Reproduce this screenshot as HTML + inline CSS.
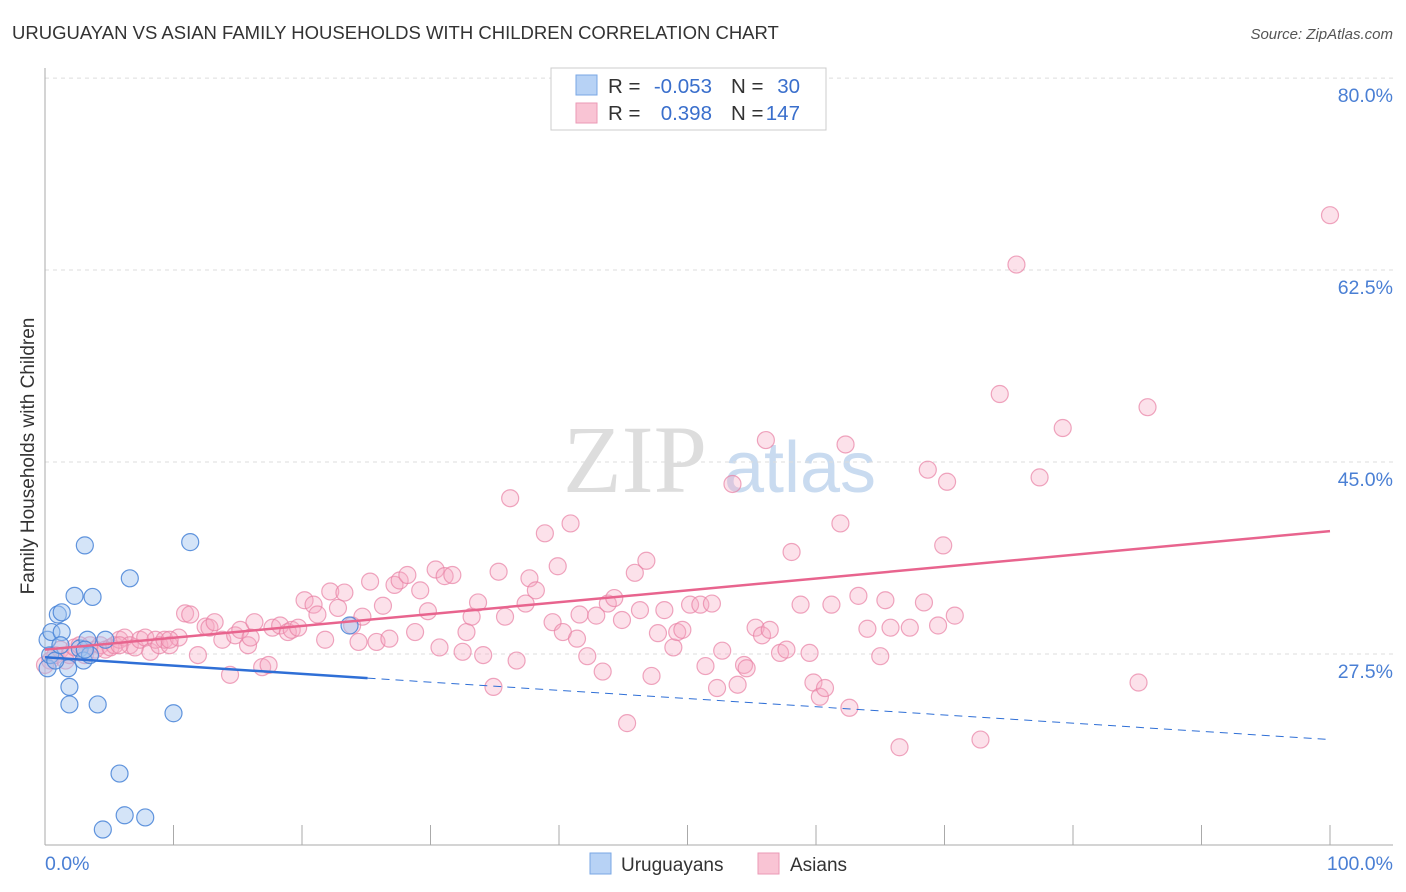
<!DOCTYPE html>
<html><head><meta charset="utf-8"><style>
body{margin:0;background:#fff}
svg{display:block;font-family:"Liberation Sans",sans-serif}
</style></head><body>
<svg id="chart" width="1406" height="892" viewBox="0 0 1406 892">
<text x="12" y="39" font-size="18.5" fill="#333">URUGUAYAN VS ASIAN FAMILY HOUSEHOLDS WITH CHILDREN CORRELATION CHART</text>
<text x="1393" y="39" font-size="15" fill="#555" font-style="italic" text-anchor="end">Source: ZipAtlas.com</text>
<g>
<text x="635" y="492" font-size="96" fill="#ddd" font-family="Liberation Serif,serif" text-anchor="middle">ZIP</text>
<text x="800" y="492" font-size="72" fill="#c9dbf0" text-anchor="middle">atlas</text>
</g>
<g id="grid"></g>
<line x1="45" y1="68" x2="45" y2="845" stroke="#aaa"/>
<line x1="45" y1="845" x2="1393" y2="845" stroke="#aaa"/>
<text x="34" y="456" font-size="19" fill="#333" transform="rotate(-90 34 456)" text-anchor="middle">Family Households with Children</text>
<text x="45" y="870" font-size="19.5" fill="#4a7fd4">0.0%</text>
<text x="1393" y="870" font-size="19.5" fill="#4a7fd4" text-anchor="end">100.0%</text>
<g id="points"></g>
<g id="lines"></g>
<g>
<rect x="551" y="68" width="275" height="62" fill="#fff" stroke="#ccc"/>
<rect x="576" y="75" width="21" height="20" fill="#b7d2f5" stroke="#7aa7e4"/>
<rect x="576" y="103" width="21" height="20" fill="#f9c4d4" stroke="#eb9ab6"/>
<g font-size="20.5" fill="#333">
<text x="608" y="93">R =</text><text x="712" y="93" text-anchor="end" fill="#3a6fcc">-0.053</text>
<text x="731" y="93">N =</text><text x="800" y="93" text-anchor="end" fill="#3a6fcc">30</text>
<text x="608" y="120">R =</text><text x="712" y="120" text-anchor="end" fill="#3a6fcc">0.398</text>
<text x="731" y="120">N =</text><text x="800" y="120" text-anchor="end" fill="#3a6fcc">147</text>
</g>
</g>
<g><rect x="590" y="853" width="21" height="21" fill="#b7d2f5" stroke="#7aa7e4"/><text x="621" y="871" font-size="19" fill="#333">Uruguayans</text></g>
<g><rect x="758" y="853" width="21" height="21" fill="#f9c4d4" stroke="#eb9ab6"/><text x="790" y="871" font-size="19" fill="#333">Asians</text></g>
</svg>
<script>
const yTicks=[80,62.5,45,27.5];
const yTickLabels=["80.0%","62.5%","45.0%","27.5%"];
const xTicks=[0,10,20,30,40,50,60,70,80,90,100];
const blueX=[0.2,0.4,0.2,0.5,1.0,1.3,1.3,1.8,1.9,1.9,2.3,2.7,3.0,3.1,3.3,3.5,3.7,4.1,4.7,5.8,6.2,6.6,7.8,4.5,10.0,11.3,23.7,0.8,1.2,3.1];
const blueY=[26.2,27.4,28.8,29.5,31.1,31.3,29.5,26.2,24.5,22.9,32.8,28.0,26.9,37.4,28.8,27.4,32.7,22.9,28.8,16.6,12.8,34.4,12.6,11.5,22.1,37.7,30.1,26.9,28.3,27.9];
const pinkX=[0.4,0.8,1.2,1.6,1.9,2.3,2.7,3.1,3.5,3.9,4.3,4.7,5.1,5.4,5.8,6.2,6.6,7.0,7.4,7.8,8.2,8.6,8.9,9.3,9.7,10.4,10.9,11.3,11.9,12.5,12.8,13.2,13.8,14.4,14.8,15.2,15.8,16.3,16.9,17.4,17.7,18.3,18.9,19.2,19.7,20.2,20.9,21.2,21.8,22.2,22.8,23.3,23.9,24.4,24.7,25.3,25.8,26.3,26.8,27.2,27.6,28.2,28.8,29.2,29.8,30.4,30.7,31.1,31.7,32.5,32.8,33.2,33.7,34.1,34.9,35.3,35.8,36.2,36.7,37.4,37.7,38.2,38.9,39.5,39.9,40.3,40.9,41.4,41.6,42.2,42.9,43.4,43.8,44.3,44.9,45.3,45.9,46.3,46.8,47.2,47.7,48.2,48.9,49.2,49.6,50.2,51.0,51.4,51.9,52.3,52.7,53.5,53.9,54.4,54.6,55.3,55.8,56.1,56.4,57.2,57.7,58.1,58.8,59.5,59.8,60.3,60.7,61.2,61.9,62.3,62.6,63.3,64.0,65.0,65.4,65.8,66.5,67.3,68.4,68.7,69.5,69.9,70.2,70.8,72.8,74.3,75.6,77.4,79.2,85.1,85.8,100,0,5.8,9.7,16.0];
const pinkY=[26.9,27.4,27.9,26.9,27.4,28.1,28.3,27.4,28.3,27.9,28.3,27.9,28.1,28.3,28.8,29.0,28.3,28.1,28.8,29.0,27.7,28.8,28.3,28.8,28.3,29.0,31.2,31.1,27.4,30.0,29.9,30.4,28.8,25.6,29.2,29.7,28.3,30.4,26.3,26.5,29.9,30.1,29.5,29.7,29.9,32.4,32.0,31.1,28.8,33.2,31.7,33.1,30.1,28.6,30.9,34.1,28.6,31.9,28.9,33.8,34.2,34.7,29.5,33.3,31.4,35.2,28.1,34.6,34.7,27.7,29.5,30.9,32.2,27.4,24.5,35.0,30.9,41.7,26.9,32.1,34.4,33.3,38.5,30.4,35.5,29.5,39.4,28.9,31.1,27.3,31.0,25.9,32.1,32.6,30.6,21.2,34.9,31.5,36.0,25.5,29.4,31.5,28.1,29.5,29.7,32.0,32.0,26.4,32.1,24.4,27.8,43.0,24.7,26.5,26.2,29.9,29.2,47.0,29.7,27.6,27.9,36.8,32.0,27.6,24.9,23.6,24.4,32.0,39.4,46.6,22.6,32.8,29.8,27.3,32.4,29.9,19.0,29.9,32.2,44.3,30.1,37.4,43.2,31.0,19.7,51.2,63.0,43.6,48.1,24.9,50.0,67.5,26.5,28.3,28.8,29.0];
const blueLineX=[0,25.1,100];
const blueLineY=[27.2,25.3,19.7];
const pinkLineX=[0,100];
const pinkLineY=[27.9,38.7];
const NS="http://www.w3.org/2000/svg";
const xs=v=>45+v*12.85;
const ys=v=>654-(v-27.5)*10.97;
const grid=document.getElementById('grid');
yTicks.forEach((t,i)=>{
 const l=document.createElementNS(NS,'line');
 l.setAttribute('x1',45);l.setAttribute('x2',1393);l.setAttribute('y1',ys(t));l.setAttribute('y2',ys(t));
 l.setAttribute('stroke','#ddd');l.setAttribute('stroke-dasharray','4 4');
 
 
 grid.appendChild(l);
 const tx=document.createElementNS(NS,'text');
 tx.setAttribute('x',1393);tx.setAttribute('y',ys(t)+24);tx.setAttribute('text-anchor','end');
 tx.setAttribute('font-size','19.5');tx.setAttribute('fill','#4a7fd4');tx.textContent=yTickLabels[i];
 
 
 grid.appendChild(tx);
});
xTicks.forEach(t=>{
 const l=document.createElementNS(NS,'line');
 l.setAttribute('x1',xs(t));l.setAttribute('x2',xs(t));l.setAttribute('y1',825);l.setAttribute('y2',845);
 l.setAttribute('stroke','#aaa');
 
 
 grid.appendChild(l);
});
const pts=document.getElementById('points');
function dot(x,y,fill,stroke,name){
 const c=document.createElementNS(NS,'circle');
 c.setAttribute('cx',xs(x));c.setAttribute('cy',ys(y));c.setAttribute('r',8.5);
 c.setAttribute('fill',fill);c.setAttribute('stroke',stroke);c.setAttribute('stroke-width','1.2');
 
 
 pts.appendChild(c);
}
pinkX.forEach((x,i)=>dot(x,pinkY[i],'rgba(246,170,196,0.35)','rgba(232,128,164,0.7)','asian-point'));
blueX.forEach((x,i)=>dot(x,blueY[i],'rgba(160,196,240,0.45)','rgba(70,130,215,0.85)','uruguayan-point'));
const lines=document.getElementById('lines');
function seg(x1,y1,x2,y2,color,w,dash,name){
 const l=document.createElementNS(NS,'line');
 l.setAttribute('x1',xs(x1));l.setAttribute('y1',ys(y1));l.setAttribute('x2',xs(x2));l.setAttribute('y2',ys(y2));
 l.setAttribute('stroke',color);l.setAttribute('stroke-width',w);
 if(dash)l.setAttribute('stroke-dasharray',dash);
 
 
 lines.appendChild(l);
}
seg(blueLineX[0],blueLineY[0],blueLineX[1],blueLineY[1],'#2f6fd6',2.5,null,'uruguayan-trend-line');
seg(blueLineX[1],blueLineY[1],blueLineX[2],blueLineY[2],'#2f6fd6',1,'8 6','uruguayan-trend-extension');
seg(pinkLineX[0],pinkLineY[0],pinkLineX[1],pinkLineY[1],'#e8648e',2.5,null,'asian-trend-line');
</script>
</body></html>
